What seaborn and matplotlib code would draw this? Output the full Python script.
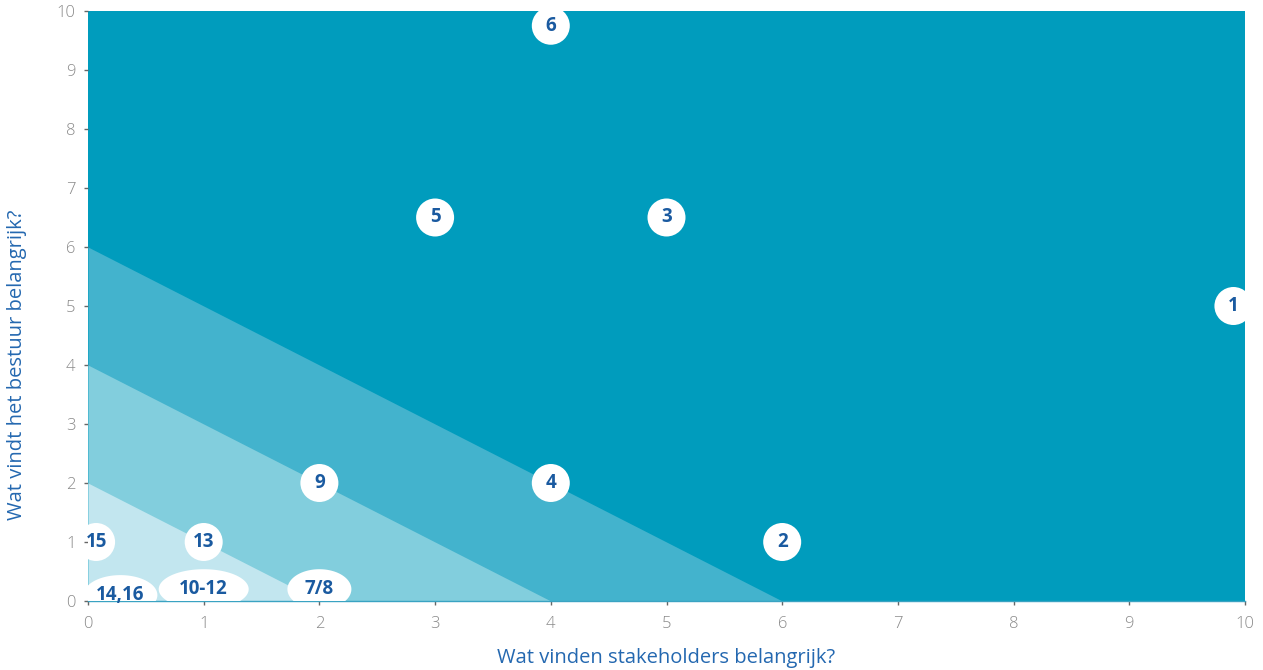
import numpy as np
import pandas as pd
import matplotlib
matplotlib.use("Agg")
import matplotlib.pyplot as plt
from matplotlib.path import Path
import seaborn as sns

# Topic positions: stakeholder importance (x) vs board importance (y)
labels = ["1", "2", "3", "4", "5", "6", "7/8", "9", "10-12", "13", "14,16", "15"]
stakeholders = [9.9, 6, 5, 4, 3, 4, 2, 2, 1, 1, 0.28, 0.07]
bestuur = [5, 1, 6.5, 2, 6.5, 9.75, 0.2, 2, 0.2, 1, 0.1, 1]

# Priority bands: regions where stakeholders + bestuur stays below a threshold
band_limits = [6, 4, 2]
band_colors = ["#43b3cd", "#82cedd", "#c2e6ef"]
top_color = "#009cbd"

ticks = list(range(0, 11))

sns.set_theme(style="white")
plt.rcParams["font.family"] = ["Open Sans", "DejaVu Sans"]

fig = plt.figure(figsize=(12.63, 6.70), dpi=100)
ax = fig.add_axes([88 / 1263, 69 / 670, (1245 - 88) / 1263, (601 - 11) / 670])
ax.set_facecolor(top_color)

xs = np.linspace(0, 10, 201)
for lim, col in zip(band_limits, band_colors):
    ax.fill_between(xs, 0, np.clip(lim - xs, 0, None), color=col, lw=0, zorder=1)

df = pd.DataFrame({"x": stakeholders, "y": bestuur, "label": labels})


def ellipse_marker(aspect):
    t = np.linspace(0, 2 * np.pi, 100)
    verts = np.column_stack([aspect * np.cos(t), np.sin(t)])
    return Path(verts, closed=True)


ellipse_width = {"7/8": 64, "10-12": 90, "14,16": 74}

px_to_pt = 72 / 100
for _, row in df.iterrows():
    lab = row["label"]
    if lab in ellipse_width:
        width_px = ellipse_width[lab]
        marker = ellipse_marker(width_px / 40)
    else:
        marker, width_px = "o", 38
    sns.scatterplot(x=[row["x"]], y=[row["y"]], ax=ax, marker=marker,
                    s=(width_px * px_to_pt) ** 2, color="white",
                    edgecolor="none", linewidth=0, zorder=3, legend=False,
                    clip_on=True)
    ax.text(row["x"], row["y"], lab, ha="center", va="center",
            fontsize=13.5, fontweight="bold", color="#1a5aa0", zorder=4)

ax.set_xlim(0, 10)
ax.set_ylim(0, 10)
ax.set_xticks(ticks)
ax.set_yticks(ticks)
ax.tick_params(axis="both", which="major", length=3, width=1, color="#666666",
               labelcolor="#8a8a8a", labelsize=12, bottom=True, left=True)
ax.tick_params(axis="x", pad=8)
ax.tick_params(axis="y", pad=6)
for t in ax.get_xticklabels() + ax.get_yticklabels():
    t.set_fontweight("light")

for side in ["top", "right", "left"]:
    ax.spines[side].set_visible(False)
ax.spines["bottom"].set_color("#3aa3c2")
ax.spines["bottom"].set_linewidth(1)

ax.set_xlabel("Wat vinden stakeholders belangrijk?", fontsize=14.5,
              color="#2468b0")
ax.set_ylabel("Wat vindt het bestuur belangrijk?", fontsize=14.5,
              color="#2468b0")
ax.xaxis.set_label_coords(0.5, -0.08)
ax.yaxis.set_label_coords(-0.053, 0.40)

fig.savefig("out.png", dpi=100)
